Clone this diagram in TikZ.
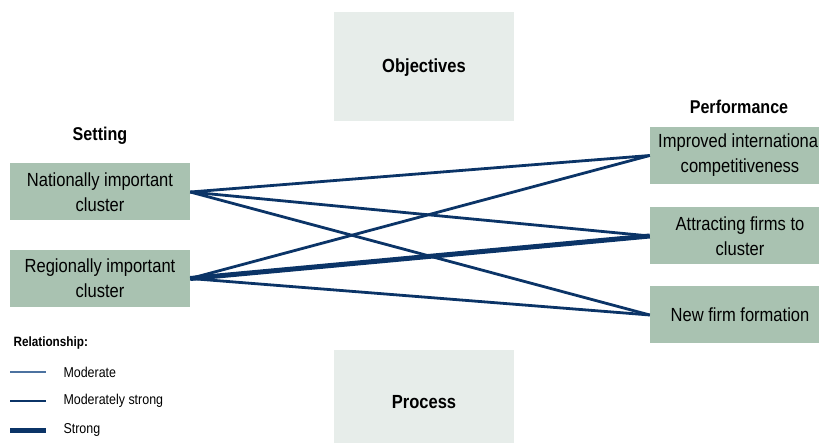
\documentclass[tikz,border=0pt]{standalone}
\usepackage{fontspec}
\setmainfont{Liberation Sans}[FakeStretch=0.87]
\definecolor{boxgreen}{HTML}{A9C2B1}
\definecolor{lightbox}{HTML}{E7EDEA}
\definecolor{navy}{HTML}{0B3467}
\definecolor{modblue}{HTML}{4C72A0}
\begin{document}
\begin{tikzpicture}[x=1pt,y=-1pt,
  cbox/.style={fill=boxgreen, draw=none, minimum width=180pt, minimum height=57pt, align=center, inner sep=0pt, font=\fontsize{19}{25}\selectfont},
  obox/.style={fill=lightbox, draw=none, minimum width=180pt, align=center, inner sep=0pt},
  head/.style={font=\bfseries\fontsize{18.5}{22}\selectfont},
  bighead/.style={font=\bfseries\fontsize{19}{23}\selectfont},
  legtext/.style={anchor=west, font=\fontsize{14.3}{17}\selectfont},
  modstrong/.style={draw=navy, line width=2.8pt},
  strong/.style={draw=navy, line width=5pt},
  moderate/.style={draw=modblue, line width=1.5pt}]
\useasboundingbox (0,0) rectangle (819,443);
\begin{scope}
\clip (0,0) rectangle (819,443);
% objectives / process
\node[obox, minimum height=109pt] (obj) at (424,66.5) {};
\node[bighead] (objt) at (424,68) {Objectives};
\node[obox, minimum height=105pt] (proc) at (424,402.5) {};
\node[bighead] (proct) at (424,402) {Process};
% headings
\node[head] (setting) at (100,136) {Setting};
\node[head] (perf) at (739,107) {Performance};
% left boxes
\node[cbox] (nat) at (100,192) {Nationally important\\cluster};
\node[cbox] (reg) at (100,278.5) {Regionally important\\cluster};
% right boxes
\node[cbox] (imp) at (740,155.5) {Improved international\\competitiveness};
\node[cbox] (att) at (740,236) {Attracting firms to\\cluster};
\node[cbox] (new) at (740,315) {New firm formation};
\end{scope}
% connectors
\draw[modstrong] (nat.east) -- (imp.west);
\draw[modstrong] (nat.east) -- (att.west);
\draw[modstrong] (nat.east) -- (new.west);
\draw[modstrong] (reg.east) -- (imp.west);
\draw[strong] (reg.east) -- (att.west);
\draw[modstrong] (reg.east) -- (new.west);
% legend
\node[anchor=west, font=\bfseries\fontsize{13.5}{16}\selectfont] (rel) at (10,343) {Relationship:};
\coordinate (l1a) at (10,372); \coordinate (l1b) at (46,372);
\coordinate (l2a) at (10,401); \coordinate (l2b) at (46,401);
\coordinate (l3a) at (10,430); \coordinate (l3b) at (46,430);
\draw[moderate] (l1a) -- (l1b);
\draw[modstrong] (l2a) -- (l2b);
\draw[strong] (l3a) -- (l3b);
\node[legtext] (t1) at (60,372) {Moderate};
\node[legtext] (t2) at (60,401) {Moderately strong};
\node[legtext] (t3) at (60,430) {Strong};
\end{tikzpicture}
\end{document}
